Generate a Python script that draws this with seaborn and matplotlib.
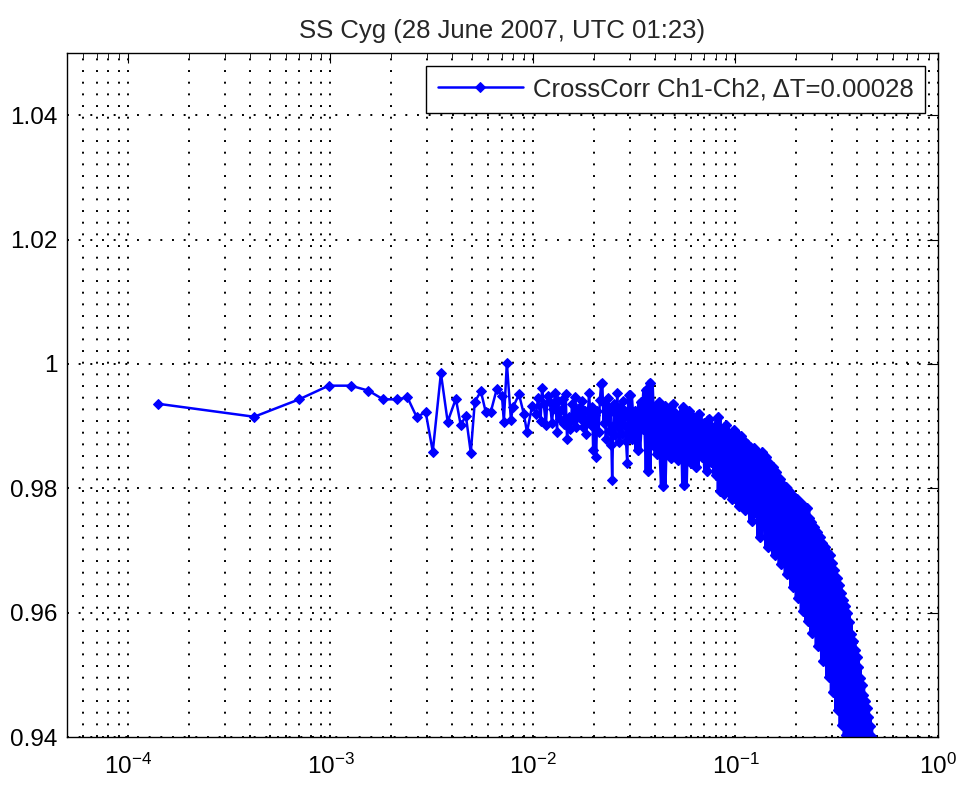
import numpy as np
import seaborn as sns
import matplotlib
matplotlib.use("Agg")
import matplotlib.pyplot as plt
from matplotlib.ticker import LogLocator, NullFormatter

# lag (s) and cross-correlation values
# sparse part, individual lags visible
lag_sparse = [1.40e-4, 4.20e-4, 7.00e-4, 9.80e-4, 1.26e-3, 1.54e-3, 1.82e-3, 2.12e-3,
              2.40e-3, 2.67e-3, 2.95e-3, 3.20e-3, 3.51e-3, 3.79e-3, 4.16e-3, 4.40e-3,
              4.66e-3, 4.93e-3, 5.16e-3, 5.53e-3, 5.85e-3, 6.19e-3, 6.63e-3, 7.03e-3,
              7.18e-3, 7.43e-3, 7.78e-3, 7.96e-3, 8.53e-3, 9.02e-3, 9.34e-3, 9.89e-3,
              1.035e-2, 1.06e-2, 1.09e-2, 1.109e-2, 1.13e-2, 1.159e-2, 1.18e-2, 1.214e-2,
              1.24e-2, 1.26e-2, 1.285e-2, 1.315e-2, 1.33e-2, 1.36e-2, 1.38e-2, 1.408e-2,
              1.43e-2, 1.45e-2, 1.473e-2, 1.50e-2, 1.53e-2, 1.56e-2, 1.58e-2, 1.62e-2,
              1.64e-2, 1.67e-2, 1.709e-2, 1.73e-2, 1.75e-2, 1.769e-2, 1.80e-2, 1.83e-2,
              1.86e-2, 1.893e-2, 1.93e-2, 1.96e-2, 1.982e-2, 2.02e-2, 2.05e-2, 2.08e-2,
              2.11e-2, 2.14e-2, 2.17e-2, 2.20e-2, 2.23e-2, 2.26e-2, 2.29e-2, 2.32e-2,
              2.35e-2, 2.38e-2, 2.41e-2, 2.44e-2, 2.46e-2, 2.49e-2, 2.52e-2, 2.55e-2,
              2.58e-2, 2.61e-2, 2.64e-2, 2.67e-2, 2.70e-2, 2.73e-2, 2.76e-2, 2.79e-2,
              2.82e-2, 2.85e-2, 2.88e-2, 2.92e-2, 2.95e-2, 2.98e-2]
corr_sparse = [0.9936, 0.9915, 0.9943, 0.9965, 0.9965, 0.9957, 0.9943, 0.9943,
               0.9946, 0.9914, 0.9923, 0.9859, 0.9985, 0.9907, 0.9944, 0.9901,
               0.9917, 0.9857, 0.9939, 0.9956, 0.9922, 0.9923, 0.9960, 0.9948,
               0.9907, 1.0002, 0.9910, 0.9930, 0.9951, 0.9919, 0.9890, 0.9932,
               0.9920, 0.9945, 0.9908, 0.9962, 0.9935, 0.9902, 0.9948, 0.9938,
               0.9905, 0.9928, 0.9954, 0.9891, 0.9941, 0.9912, 0.9926, 0.9944,
               0.9903, 0.9951, 0.9880, 0.9915, 0.9895, 0.9935, 0.9908, 0.9947,
               0.9899, 0.9921, 0.9930, 0.9911, 0.9940, 0.9899, 0.9925, 0.9887,
               0.9912, 0.9954, 0.9902, 0.9930, 0.9862, 0.9918, 0.9851, 0.9925,
               0.9890, 0.9942, 0.9968, 0.9970, 0.9905, 0.9936, 0.9880, 0.9918,
               0.9945, 0.9892, 0.9926, 0.9870, 0.9814, 0.9900, 0.9935, 0.9885,
               0.9920, 0.9954, 0.9898, 0.9875, 0.9930, 0.9910, 0.9888, 0.9940,
               0.9902, 0.9925, 0.9876, 0.9841, 0.9915, 0.9950]

# dense part, lags merge into a solid band
lag_dense = [0.030, 0.031, 0.032, 0.033, 0.034, 0.035, 0.036, 0.037, 0.038, 0.039,
             0.040, 0.041, 0.042, 0.043, 0.044, 0.045, 0.046, 0.047, 0.048, 0.049,
             0.050, 0.051, 0.052, 0.053, 0.054, 0.055, 0.056, 0.057, 0.058, 0.059,
             0.060, 0.062, 0.064, 0.066, 0.068, 0.070, 0.072, 0.074, 0.076, 0.078,
             0.080, 0.082, 0.084, 0.086, 0.088, 0.090, 0.092, 0.094, 0.096, 0.098,
             0.100, 0.102, 0.104, 0.106, 0.108, 0.110, 0.112, 0.114, 0.116, 0.118,
             0.120, 0.123, 0.126, 0.129, 0.132, 0.135, 0.138, 0.141, 0.144, 0.147,
             0.150, 0.153, 0.156, 0.159, 0.162, 0.165, 0.168, 0.171, 0.174, 0.177,
             0.180, 0.183, 0.186, 0.189, 0.192, 0.195, 0.198, 0.201, 0.204, 0.207,
             0.210, 0.213, 0.216, 0.219, 0.222, 0.225, 0.228, 0.231, 0.234, 0.237,
             0.240, 0.244, 0.248, 0.252, 0.256, 0.260, 0.264, 0.268, 0.272, 0.276,
             0.280, 0.284, 0.288, 0.292, 0.296, 0.300, 0.304, 0.308, 0.312, 0.316,
             0.320, 0.324, 0.328, 0.332, 0.336, 0.340, 0.344, 0.348, 0.352, 0.356,
             0.360, 0.364, 0.368, 0.372, 0.376, 0.380, 0.384, 0.388, 0.392, 0.396,
             0.400, 0.404, 0.408, 0.412, 0.416, 0.420, 0.424, 0.428, 0.432, 0.436,
             0.440, 0.444, 0.448, 0.452, 0.456, 0.460, 0.464, 0.468, 0.472]
corr_dense = [0.9950, 0.9880, 0.9925, 0.9862, 0.9938, 0.9895, 0.9958, 0.9827, 0.9970, 0.9870,
              0.9930, 0.9855, 0.9938, 0.9880, 0.9803, 0.9932, 0.9860, 0.9918, 0.9848, 0.9935,
              0.9872, 0.9920, 0.9845, 0.9908, 0.9868, 0.9930, 0.9806, 0.9912, 0.9852, 0.9925,
              0.9840, 0.9915, 0.9835, 0.9920, 0.9850, 0.9905, 0.9828, 0.9912, 0.9842, 0.9898,
              0.9822, 0.9914, 0.9795, 0.9895, 0.9790, 0.9902, 0.9800, 0.9888, 0.9782, 0.9893,
              0.9800, 0.9888, 0.9772, 0.9884, 0.9790, 0.9876, 0.9765, 0.9872, 0.9780, 0.9866,
              0.9748, 0.9864, 0.9760, 0.9856, 0.9722, 0.9858, 0.9745, 0.9850, 0.9706, 0.9840,
              0.9730, 0.9834, 0.9692, 0.9826, 0.9712, 0.9815, 0.9678, 0.9806, 0.9700, 0.9802,
              0.9662, 0.9796, 0.9680, 0.9790, 0.9642, 0.9786, 0.9660, 0.9782, 0.9624, 0.9778,
              0.9640, 0.9774, 0.9602, 0.9770, 0.9620, 0.9768, 0.9586, 0.9752, 0.9600, 0.9745,
              0.9568, 0.9738, 0.9580, 0.9730, 0.9546, 0.9722, 0.9560, 0.9712, 0.9522, 0.9706,
              0.9535, 0.9698, 0.9497, 0.9692, 0.9510, 0.9680, 0.9473, 0.9668, 0.9485, 0.9656,
              0.9443, 0.9645, 0.9455, 0.9632, 0.9420, 0.9620, 0.9432, 0.9610, 0.9403, 0.9600,
              0.9395, 0.9585, 0.9390, 0.9566, 0.9385, 0.9555, 0.9380, 0.9540, 0.9378, 0.9528,
              0.9375, 0.9512, 0.9372, 0.9495, 0.9370, 0.9484, 0.9368, 0.9468, 0.9365, 0.9458,
              0.9362, 0.9446, 0.9360, 0.9432, 0.9358, 0.9418, 0.9356, 0.9402, 0.9355]

lag_s = lag_sparse + lag_dense
corr = corr_sparse + corr_dense

ytick_vals = [0.94, 0.96, 0.98, 1.00, 1.02, 1.04]
ytick_labels = ["0.94", "0.96", "0.98", "1", "1.02", "1.04"]

sns.set_style("white")
plt.rcParams["font.family"] = ["Liberation Sans", "DejaVu Sans"]
plt.rcParams["mathtext.fontset"] = "custom"
plt.rcParams["mathtext.rm"] = "Liberation Sans"
plt.rcParams["mathtext.it"] = "Liberation Sans"

fig = plt.figure(figsize=(9.58, 7.85), dpi=100)
ax = fig.add_axes([67 / 958, 1 - 737 / 785, (938 - 67) / 958, (737 - 53) / 785])

line_kw = dict(estimator=None, sort=False, color="#0000ff", marker="D",
               markersize=5.5, markeredgecolor="#0000ff", ax=ax)
sns.lineplot(x=lag_s, y=corr, linewidth=1.8,
             label="CrossCorr Ch1-Ch2, ΔT=0.00028", **line_kw)
# the real series has ~4x more lags here, so the trace merges into a solid band
sns.lineplot(x=lag_dense, y=corr_dense, linewidth=5, legend=False, **line_kw)

ax.set_xscale("log")
ax.set_xlim(5e-5, 1)
ax.set_ylim(0.94, 1.05)
ax.xaxis.set_major_locator(LogLocator(base=10, numticks=10))
ax.xaxis.set_minor_locator(LogLocator(base=10, subs=np.arange(2, 10), numticks=20))
ax.xaxis.set_minor_formatter(NullFormatter())
ax.set_yticks(ytick_vals, ytick_labels)

grid_kw = dict(color="black", linestyle=(0, (1, 5)), linewidth=1.4)
ax.grid(True, which="major", axis="both", **grid_kw)
ax.grid(True, which="minor", axis="x", **grid_kw)
ax.set_axisbelow(True)

for s in ax.spines.values():
    s.set_color("black")
    s.set_linewidth(1.0)
ax.tick_params(axis="both", which="both", direction="in", top=True, right=True,
               colors="black", labelsize=17.5)
ax.tick_params(axis="x", which="major", length=7, pad=12)
ax.tick_params(axis="x", which="minor", length=3.5)
ax.tick_params(axis="y", which="major", length=8, pad=7)

ax.set_xlabel("")
ax.set_ylabel("")
ax.set_title("SS Cyg (28 June 2007, UTC 01:23)", fontsize=18.5, pad=11)

leg = ax.legend(loc="upper right", fontsize=18.5, frameon=True, fancybox=False,
                framealpha=1, edgecolor="black", handlelength=3.3,
                borderaxespad=0.5, borderpad=0.45, handletextpad=0.4)
leg.get_frame().set_linewidth(1.0)

fig.savefig("out.png", dpi=100)
